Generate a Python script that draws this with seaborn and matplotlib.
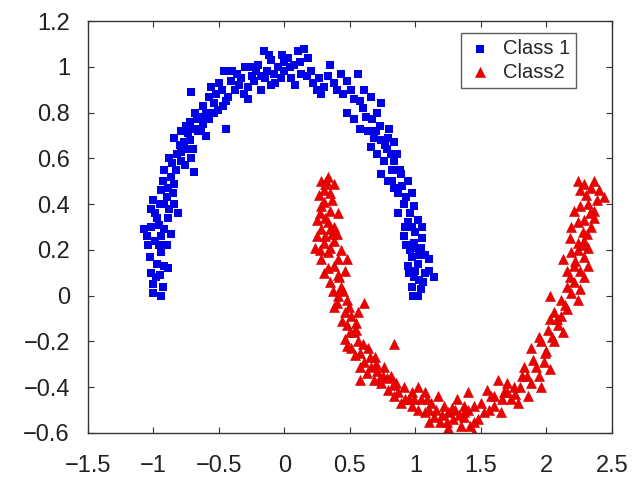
import matplotlib
matplotlib.use("Agg")
import matplotlib.pyplot as plt
import seaborn as sns
import pandas as pd

class1_x = [-1.0, -0.94, -1.0, -0.93, -1.03, -0.97, -0.92, -0.89, -1.04, -0.94,
            -1.07, -1.02, -0.92, -0.87, -0.94, -1.0, -0.92, -0.84, -0.81, -0.89, -0.97,
            -0.92, -0.87, -0.89, -0.84, -0.94, -0.79, -0.71, -0.69, -0.79,
            -0.84, -0.79, -0.74, -0.77, -0.69, -0.64, -0.58, -0.64, -0.54,
            -0.71, -0.45, -0.58, -0.54, -0.48, -0.51, -0.46, -0.41, -0.38, -0.33, -0.43,
            -0.28, -0.23, -0.18, -0.26, -0.2, -0.13, -0.1, -0.05, -0.16,
            -0.03, 0.03, 0.07, 0.1, 0.15, 0.18, 0.13, 0.2, 0.26,
            0.35, 0.3, 0.28, 0.43, 0.48, 0.56, 0.51, 0.61, 0.58, 0.66, 0.74, 0.71,
            0.48, 0.53, 0.58, 0.64, 0.68, 0.66, 0.74, 0.79, 0.84, 0.81, 0.71, 0.76, 0.84,
            0.74, 0.79, 0.84, 0.89, 0.87, 0.94, 0.97, 0.91, 0.87, 0.99, 1.02, 0.94,
            0.91, 0.99, 1.04, 0.97, 1.02, 1.1, 0.94, 0.99, 1.07, 1.14, 0.97, 1.04,
            -0.98, -0.96, -0.99, -0.95, -0.9, -0.86, -0.82, -0.75, -0.72, -0.68, -0.62, -0.6,
            -0.52, -0.45, -0.36, -0.31, -0.25, -0.15, -0.08, -0.02, 0.0, 0.05, 0.08, 0.22,
            0.38, 0.45, 0.62, 0.7, 0.78, 0.82, 0.9, 0.96, 0.92, 1.0, 1.05, 0.96, 1.03, 1.0,
            1.06, 1.0,
            -1.02, -0.95, -1.05, -0.99, -0.9, -0.96, -1.02, -0.88, -0.93, -0.85,
            -0.88, -0.83, -0.76, -0.8, -0.72, -0.7, -0.66, -0.62, -0.75, -0.67, -0.6,
            -0.56, -0.5, -0.47, -0.4, -0.35, -0.3, -0.22, -0.12, -0.07, 0.0, 0.04, 0.12,
            0.17, -0.28, -0.18, -0.1,
            0.25, 0.33, 0.4, 0.53, 0.6, 0.67, 0.73, 0.8, 0.77, 0.86, 0.82, 0.88, 0.93,
            0.97, 1.05, 0.93, 1.01, 1.07, 0.95, 1.03, 1.1, 1.02, 0.98]
class1_y = [0.01, 0.0, 0.05, 0.04, 0.17, 0.14, 0.13, 0.12, 0.22, 0.19,
            0.29, 0.30, 0.29, 0.27, 0.26, 0.42, 0.40, 0.40, 0.36, 0.34, 0.34,
            0.55, 0.52, 0.47, 0.49, 0.46, 0.59, 0.60, 0.54, 0.63,
            0.69, 0.72, 0.71, 0.67, 0.73, 0.78, 0.77, 0.73, 0.80,
            0.89, 0.73, 0.87, 0.84, 0.90, 0.81, 0.98, 0.94, 0.90, 0.95, 0.87,
            0.91, 0.94, 0.90, 1.0, 1.01, 0.98, 1.03, 1.0, 1.07,
            0.95, 1.04, 1.01, 1.07, 1.08, 1.04, 0.97, 0.98, 0.95,
            1.01, 0.91, 0.88, 0.97, 0.94, 0.97, 0.90, 0.90, 0.85, 0.87, 0.84, 0.80,
            0.80, 0.77, 0.73, 0.72, 0.69, 0.65, 0.68, 0.69, 0.67, 0.62, 0.62, 0.59, 0.59,
            0.53, 0.50, 0.47, 0.53, 0.45, 0.50, 0.45, 0.40, 0.36, 0.39, 0.33, 0.32,
            0.26, 0.23, 0.21, 0.17, 0.14, 0.16, 0.13, 0.08, 0.10, 0.08, 0.04, 0.03,
            0.08, 0.22, 0.36, 0.40, 0.43, 0.58, 0.62, 0.64, 0.76, 0.80, 0.83, 0.70,
            0.88, 0.85, 0.97, 0.88, 0.96, 0.95, 0.97, 1.05, 0.98, 0.95, 0.92, 0.93,
            0.93, 0.88, 0.78, 0.72, 0.64, 0.55, 0.48, 0.36, 0.30, 0.28, 0.25, 0.20, 0.18, 0.11,
            0.06, 0.0,
            0.10, 0.09, 0.26, 0.24, 0.22, 0.31, 0.38, 0.38, 0.50, 0.45,
            0.60, 0.55, 0.57, 0.66, 0.68, 0.64, 0.72, 0.75, 0.74, 0.77, 0.80,
            0.91, 0.93, 0.83, 0.98, 0.92, 1.0, 0.98, 1.05, 0.93, 1.02, 1.0, 1.02,
            0.96, 0.86, 0.96, 0.92,
            0.90, 0.96, 0.90, 0.86, 0.82, 0.77, 0.74, 0.73, 0.66, 0.62, 0.50, 0.55, 0.43,
            0.30, 0.30, 0.22, 0.21, 0.18, 0.10, 0.07, 0.11, 0.0, 0.0]

class2_x = [0.28, 0.33, 0.38, 0.30, 0.35, 0.28, 0.35, 0.41, 0.25, 0.33, 0.38, 0.28,
            0.23, 0.30, 0.38, 0.43, 0.33, 0.48, 0.28, 0.38, 0.46, 0.30,
            0.35, 0.43, 0.41, 0.48, 0.38, 0.46, 0.61, 0.51, 0.56,
            0.48, 0.53, 0.46, 0.56, 0.51, 0.58, 0.64, 0.69, 0.84,
            0.61, 0.66, 0.71, 0.76, 0.68, 0.74, 0.81, 0.79, 0.87, 0.58,
            0.91, 0.97, 1.02, 1.07, 0.89, 0.97, 1.04, 1.12, 1.17, 1.22, 1.07, 1.14, 1.25,
            1.32, 1.37, 1.19, 1.29, 1.37,
            1.40, 1.45, 1.37, 1.48, 1.42, 1.52, 1.60, 1.55, 1.63, 1.68, 1.73, 1.65, 1.78,
            1.86, 1.81, 1.88, 1.94, 1.83, 1.90, 1.98, 2.03, 1.96,
            1.88, 1.96, 1.94, 2.01, 2.03, 2.09, 2.13, 2.11, 2.06, 2.16, 2.03, 2.11, 2.19,
            2.24, 2.16, 2.21, 2.26,
            2.13, 2.19, 2.24, 2.29, 2.32, 2.26, 2.21, 2.16, 2.29, 2.24, 2.29, 2.32, 2.19,
            2.24, 2.29, 2.34, 2.36, 2.21, 2.26, 2.32, 2.36, 2.39, 2.44, 2.26, 2.29, 2.34,
            2.36, 2.24,
            1.25, 1.45, 1.10, 1.30, 0.95, 0.85, 0.75, 0.65, 0.55, 0.42, 0.36, 0.30, 0.32,
            1.60, 1.70, 1.75, 2.06, 2.00, 2.18, 2.28,
            0.26, 0.31, 0.36, 0.27, 0.31, 0.35, 0.25, 0.31, 0.40, 0.27, 0.35, 0.41,
            0.33, 0.41, 0.37, 0.45, 0.40, 0.49, 0.44, 0.50, 0.55, 0.48, 0.54, 0.60,
            0.58, 0.63, 0.70, 0.72, 0.78, 0.83, 0.84, 0.92, 0.99, 1.02, 1.09, 1.10,
            1.16, 1.20, 1.24, 1.28, 1.33, 1.35, 1.40, 1.45, 1.50, 1.56, 1.58, 1.66,
            1.70, 1.76, 1.80, 1.85, 1.92, 1.99, 2.04, 2.08, 2.14, 2.18, 2.22, 2.27,
            2.31, 2.33, 2.40, 2.30]
class2_y = [0.50, 0.52, 0.49, 0.46, 0.45, 0.39, 0.37, 0.36, 0.33, 0.32, 0.30, 0.29,
            0.21, 0.23, 0.24, 0.20, 0.19, 0.16, 0.16, 0.13, 0.11, 0.10,
            0.06, 0.04, 0.0, -0.02, -0.05, -0.07, -0.03, -0.09, -0.07,
            -0.13, -0.16, -0.19, -0.20, -0.23, -0.25, -0.23, -0.27, -0.21,
            -0.29, -0.31, -0.33, -0.31, -0.37, -0.38, -0.35, -0.41, -0.42, -0.37,
            -0.40, -0.42, -0.40, -0.42, -0.47, -0.48, -0.45, -0.47, -0.44, -0.48, -0.51, -0.53, -0.51,
            -0.45, -0.48, -0.55, -0.54, -0.53,
            -0.42, -0.48, -0.51, -0.54, -0.57, -0.51, -0.48, -0.41, -0.37, -0.42, -0.45, -0.51, -0.47,
            -0.44, -0.35, -0.38, -0.35, -0.31, -0.28, -0.29, -0.32, -0.40,
            -0.23, -0.20, -0.18, -0.15, -0.10, -0.13, -0.16, -0.09, -0.07, -0.06, 0.0, -0.02, 0.01,
            -0.02, 0.04, 0.06, 0.03,
            0.16, 0.19, 0.20, 0.17, 0.13, 0.11, 0.13, 0.11, 0.08, 0.23, 0.24, 0.21, 0.30,
            0.32, 0.33, 0.30, 0.34, 0.37, 0.39, 0.40, 0.37, 0.42, 0.43, 0.46, 0.49, 0.47,
            0.50, 0.50,
            -0.58, -0.60, -0.55, -0.50, -0.45, -0.38, -0.35, -0.27, -0.12, 0.08, 0.27, 0.41, 0.50,
            -0.44, -0.38, -0.40, -0.20, -0.24, 0.25, 0.28,
            0.44, 0.49, 0.42, 0.36, 0.34, 0.29, 0.26, 0.26, 0.27, 0.20, 0.21, 0.16,
            0.12, 0.09, 0.02, 0.02, -0.03, -0.05, -0.11, -0.16, -0.15, -0.22, -0.26, -0.21,
            -0.31, -0.34, -0.30, -0.37, -0.36, -0.39, -0.44, -0.45, -0.45, -0.50, -0.45, -0.50,
            -0.50, -0.52, -0.55, -0.49, -0.52, -0.57, -0.50, -0.55, -0.47, -0.50, -0.44, -0.45,
            -0.42, -0.43, -0.40, -0.35, -0.31, -0.25, -0.18, -0.10, -0.04, 0.08, 0.15, 0.22,
            0.27, 0.36, 0.46, 0.44]

x_ticks = [-1.5, -1, -0.5, 0, 0.5, 1, 1.5, 2, 2.5]
y_ticks = [-0.6, -0.4, -0.2, 0, 0.2, 0.4, 0.6, 0.8, 1, 1.2]
labels = ["Class 1", "Class2"]

df1 = pd.DataFrame({"x": class1_x, "y": class1_y, "cls": labels[0]})
df2 = pd.DataFrame({"x": class2_x, "y": class2_y, "cls": labels[1]})

sns.set_style("white")
plt.rcParams["font.family"] = ["Liberation Sans", "DejaVu Sans"]

fig = plt.figure(figsize=(6.35, 4.84), dpi=100)
ax = fig.add_axes([0.1386, 0.1054, 0.825, 0.851])

sns.scatterplot(data=df1, x="x", y="y", color="#0000e6", marker="s", s=32,
                linewidth=0, label=labels[0], ax=ax)
sns.scatterplot(data=df2, x="x", y="y", color="#ee0000", marker="^", s=52,
                edgecolor="#cc0000", linewidth=0.4, label=labels[1], ax=ax)

ax.set_xlim(-1.5, 2.5)
ax.set_ylim(-0.6, 1.2)
ax.set_xticks(x_ticks)
ax.set_yticks(y_ticks)
ax.set_xticklabels([f"{t:g}".replace("-", "\u2212") for t in x_ticks])
ax.set_yticklabels([f"{t:g}".replace("-", "\u2212") for t in y_ticks])
ax.set_xlabel("")
ax.set_ylabel("")
ax.tick_params(direction="in", length=4, width=0.8, color="#333333",
               labelsize=17, labelcolor="#222222", top=True, right=True,
               bottom=True, left=True)
ax.tick_params(axis="x", pad=16)
ax.tick_params(axis="y", pad=13)
for sp in ax.spines.values():
    sp.set_color("#333333")
    sp.set_linewidth(1.0)

leg = ax.legend(loc="upper right", bbox_to_anchor=(0.932, 0.971), frameon=True,
                fancybox=False, edgecolor="#333333", fontsize=14.5,
                handletextpad=0.45, borderpad=0.32, handlelength=1.3,
                labelspacing=0.2, borderaxespad=0.0, markerscale=1.0)
leg.get_frame().set_linewidth(1.0)

fig.savefig("out.png", dpi=100)
